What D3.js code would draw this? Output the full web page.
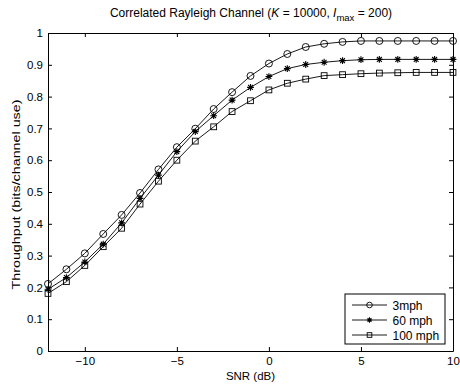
<!DOCTYPE html>
<html>
<head>
<meta charset="utf-8">
<script src="https://cdn.jsdelivr.net/npm/d3@7"></script>
<style>
  body { margin: 0; background: #fff; }
  text { font-family: "Liberation Sans", Arial, Helvetica, sans-serif; fill: #000; }
</style>
</head>
<body>
<script>
// data
var snr = [-12, -11, -10, -9, -8, -7, -6, -5, -4, -3, -2, -1, 0, 1, 2, 3, 4, 5, 6, 7, 8, 9, 10];
var mph3 = [0.211, 0.257, 0.307, 0.368, 0.428, 0.497, 0.571, 0.641, 0.699, 0.761, 0.814, 0.865, 0.904, 0.934, 0.956, 0.966, 0.972, 0.975, 0.975, 0.975, 0.975, 0.975, 0.975];
var mph60 = [0.194, 0.231, 0.280, 0.336, 0.403, 0.480, 0.553, 0.627, 0.690, 0.740, 0.789, 0.829, 0.863, 0.888, 0.901, 0.908, 0.913, 0.916, 0.917, 0.917, 0.917, 0.917, 0.917];
var mph100 = [0.181, 0.218, 0.269, 0.328, 0.386, 0.462, 0.534, 0.600, 0.660, 0.705, 0.753, 0.787, 0.821, 0.842, 0.855, 0.866, 0.869, 0.872, 0.874, 0.875, 0.876, 0.876, 0.876];
var seriesNames = ["3mph", "60 mph", "100 mph"];
var markers = ["circle", "star", "square"];
var xTicks = [-10, -5, 0, 5, 10];
var yTicks = [0, 0.1, 0.2, 0.3, 0.4, 0.5, 0.6, 0.7, 0.8, 0.9, 1];

var w = 460;
var h = 385;
var plotL = 48, plotR = 453, plotT = 33, plotB = 351;

var svg = d3.select("body").append("svg")
            .attr("width", w)
            .attr("height", h);

var x = d3.scaleLinear().domain([-12, 10]).range([plotL, plotR]);
var y = d3.scaleLinear().domain([0, 1]).range([plotB, plotT]);

// axes (matlab style: box with inward ticks)
var fmtY = function(d) { return d === 0 || d === 1 ? d3.format("d")(d) : d3.format(".1f")(d); };
var fmtX = function(d) { return d < 0 ? "\u2212" + Math.abs(d) : d; };

var gx = svg.append("g")
            .attr("transform", "translate(0," + plotB + ")")
            .call(d3.axisBottom(x).tickValues(xTicks).tickFormat(fmtX).tickSizeInner(-4).tickSizeOuter(0).tickPadding(6));
var gxTop = svg.append("g")
            .attr("transform", "translate(0," + plotT + ")")
            .call(d3.axisTop(x).tickValues(xTicks).tickFormat("").tickSizeInner(-4).tickSizeOuter(0));
var gy = svg.append("g")
            .attr("transform", "translate(" + plotL + ",0)")
            .call(d3.axisLeft(y).tickValues(yTicks).tickFormat(fmtY).tickSizeInner(-4).tickSizeOuter(0).tickPadding(5));
var gyRight = svg.append("g")
            .attr("transform", "translate(" + plotR + ",0)")
            .call(d3.axisRight(y).tickValues(yTicks).tickFormat("").tickSizeInner(-4).tickSizeOuter(0));

svg.selectAll(".domain").attr("stroke", "#000").attr("stroke-width", 1);
svg.selectAll(".tick line").attr("stroke", "#000");
svg.selectAll(".tick text").style("font-size", "11.5px").attr("fill", "#000")
   .style("font-family", "'Liberation Sans', Arial, sans-serif");

// series
var allSeries = [mph3, mph60, mph100];
var line = d3.line()
             .x(function(d, i) { return x(snr[i]); })
             .y(function(d) { return y(d); });

function drawMarker(g, type, cx, cy, s) {
  if (type === "circle") {
    g.append("circle").attr("cx", cx).attr("cy", cy).attr("r", 3.5 * s)
     .attr("fill", "none").attr("stroke", "#000").attr("stroke-width", 0.9);
  } else if (type === "square") {
    var a = 2.9 * s;
    g.append("rect").attr("x", cx - a).attr("y", cy - a).attr("width", 2 * a).attr("height", 2 * a)
     .attr("fill", "none").attr("stroke", "#000").attr("stroke-width", 0.9);
  } else {
    var r = 3.4 * s;
    var p = "";
    for (var k = 0; k < 4; k++) {
      var ang = k * Math.PI / 4;
      p += "M" + (cx - r * Math.cos(ang)) + "," + (cy - r * Math.sin(ang)) +
           "L" + (cx + r * Math.cos(ang)) + "," + (cy + r * Math.sin(ang));
    }
    g.append("path").attr("d", p).attr("stroke", "#000").attr("stroke-width", 1.1).attr("fill", "none");
  }
}

allSeries.forEach(function(vals, si) {
  svg.append("path")
     .datum(vals)
     .attr("d", line)
     .attr("fill", "none")
     .attr("stroke", "#000")
     .attr("stroke-width", 0.9);
  var g = svg.append("g");
  vals.forEach(function(v, i) {
    drawMarker(g, markers[si], x(snr[i]), y(v), 1);
  });
});

// title
var title = svg.append("text")
               .attr("x", 251)
               .attr("y", 17)
               .attr("text-anchor", "middle")
               .style("font-size", "12px");
title.append("tspan").text("Correlated Rayleigh Channel (");
title.append("tspan").style("font-style", "italic").text("K");
title.append("tspan").text(" = 10000, ");
title.append("tspan").style("font-style", "italic").text("I");
title.append("tspan").attr("dy", 4).style("font-size", "9.5px").text("max");
title.append("tspan").attr("dy", -4).text(" = 200)");

// axis labels
svg.append("text")
   .attr("x", (plotL + plotR) / 2)
   .attr("y", 380)
   .attr("text-anchor", "middle")
   .style("font-size", "11.5px")
   .text("SNR (dB)");

svg.append("text")
   .attr("transform", "translate(20,194.5) rotate(-90)")
   .attr("text-anchor", "middle")
   .attr("textLength", 190)
   .attr("lengthAdjust", "spacingAndGlyphs")
   .style("font-size", "11px")
   .text("Throughput (bits/channel use)");

// legend
var lg = svg.append("g");
lg.append("rect")
  .attr("x", 345).attr("y", 294)
  .attr("width", 100).attr("height", 50)
  .attr("fill", "#fff").attr("stroke", "#000").attr("stroke-width", 1);
seriesNames.forEach(function(name, i) {
  var ly = 305 + i * 15;
  lg.append("line").attr("x1", 352).attr("x2", 387).attr("y1", ly).attr("y2", ly)
    .attr("stroke", "#000").attr("stroke-width", 0.9);
  drawMarker(lg, markers[i], 369.5, ly, 0.8);
  lg.append("text").attr("x", 392.5).attr("y", ly + 4.5)
    .style("font-size", "12px").text(name);
});
</script>
</body>
</html>
